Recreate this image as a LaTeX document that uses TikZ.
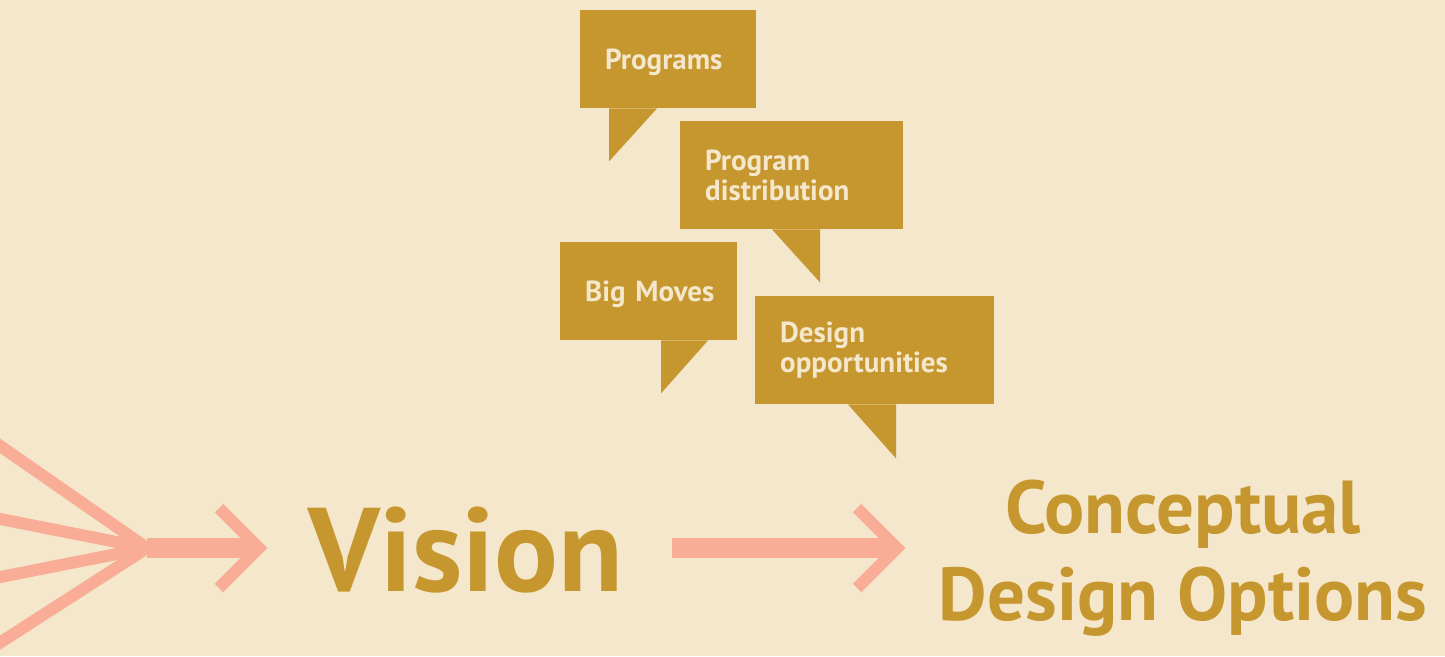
\documentclass[tikz,border=0pt]{standalone}
\usepackage{fontspec}
\setmainfont{PT Sans}
\definecolor{paper}{HTML}{F4E7CC}
\definecolor{ochre}{HTML}{C6972E}
\definecolor{salmon}{HTML}{F9AD96}
\tikzset{
  bubble/.style={fill=ochre, text=paper, font=\fontsize{29}{30}\selectfont\bfseries,
    align=left, anchor=north west, inner xsep=25pt, inner ysep=0pt},
  tail/.style={fill=ochre},
  fan/.style={draw=salmon, line width=12pt},
  shaft/.style={draw=salmon, line width=20pt},
  chevron/.style={draw=salmon, line width=12pt, miter limit=10}
}
\begin{document}
\begin{tikzpicture}[x=1pt,y=-1pt]
	\fill[paper] (0,0) rectangle (1445,656);
	\clip (0,0) rectangle (1445,656);
	% speech bubbles
	\node[bubble, text width=126pt, minimum height=98pt, text depth=0pt] (programs) at (580,10) {Programs};
	\node[bubble, text width=173pt, minimum height=108pt] (distribution) at (680,121) {Program\\distribution};
	\node[bubble, text width=127pt, minimum height=98pt, text depth=0pt] (bigmoves) at (560,242) {Big~Moves};
	\node[bubble, text width=189pt, minimum height=108pt] (opportunities) at (755,296) {Design\\opportunities};
	\fill[tail] ([xshift=29pt]programs.south west) -- ++(48,0) -- ++(-48,53) -- cycle;
	\fill[tail] ([xshift=92pt]distribution.south west) -- ++(48,0) -- ++(0,53) -- cycle;
	\fill[tail] ([xshift=101pt]bigmoves.south west) -- ++(47,0) -- ++(-47,53) -- cycle;
	\fill[tail] ([xshift=93pt]opportunities.south west) -- ++(48,0) -- ++(0,54) -- cycle;
	% main words
	\node[text=ochre, font=\fontsize{119}{119}\selectfont\bfseries] (vision) at (466,550) {Vision};
	\node[text=ochre, font=\fontsize{75}{87}\selectfont\bfseries, align=center] (options) at (1183,558) {Conceptual\\Design Options};
	% arrows
	\coordinate (hub) at (147,548);
	\coordinate (tipa) at (259,548);
	\coordinate (taila) at (672,548);
	\coordinate (tipb) at (897,548);
	\foreach \y in {425,513,583,662}
		\draw[fan] (-30,\y) -- (hub);
	\draw[shaft] (hub) -- ([xshift=-4pt]tipa);
	\draw[chevron] ([xshift=-40pt,yshift=40pt]tipa) -- (tipa) -- ([xshift=-40pt,yshift=-40pt]tipa);
	\draw[shaft] (taila) -- ([xshift=-4pt]tipb);
	\draw[chevron] ([xshift=-40pt,yshift=40pt]tipb) -- (tipb) -- ([xshift=-40pt,yshift=-40pt]tipb);
\end{tikzpicture}
\end{document}
